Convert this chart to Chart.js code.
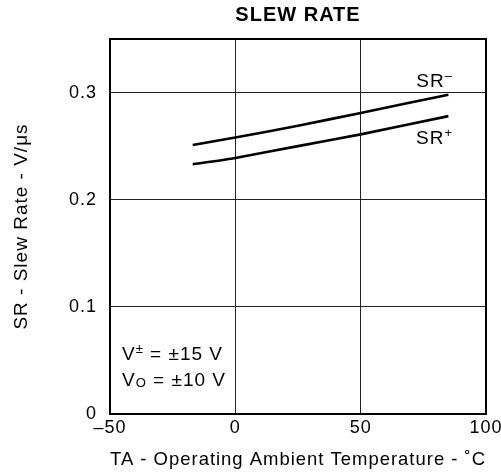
<!DOCTYPE html>
<html><head><meta charset="utf-8">
<script src="https://cdn.jsdelivr.net/npm/chart.js@4/dist/chart.umd.min.js"></script>
<style>html,body{margin:0;padding:0;background:#fff;}#wrap{width:501px;height:476px;}</style>
</head><body><div id="wrap"><canvas id="c" width="501" height="476"></canvas></div>
<script>
// ---- data ----
const temps = [-17, 0, 25, 50, 85];
const srMinus = [0.251, 0.258, 0.269, 0.281, 0.298];
const srPlus = [0.233, 0.239, 0.250, 0.261, 0.278];
const xTicks = [-50, 0, 50, 100];
const xTickLabels = ['–50', '0', '50', '100'];
const yTicks = [0, 0.1, 0.2, 0.3];
const yTickLabels = ['0', '0.1', '0.2', '0.3'];
const chartTitle = 'SLEW RATE';
const xTitle = 'TA - Operating Ambient Temperature - ˚C';
const yTitle = 'SR - Slew Rate - V/μs';
// annotation texts (segments: normal / sup / sub), anchored in data coordinates
const notes = [
  {x: 79.5, y: 0.305, align: 'center', parts: [['SR', ''], ['–', 'sup']]},
  {x: 79.5, y: 0.252, align: 'center', parts: [['SR', ''], ['+', 'sup']]},
  {x: -45.2, y: 0.0502, align: 'left', parts: [['V', ''], ['±', 'sup'], [' = ±15 V', '']]},
  {x: -45.2, y: 0.0263, align: 'left', parts: [['V', ''], ['O', 'sub'], [' = ±10 V', '']]}
];

const FONT = '"Liberation Sans", Arial, Helvetica, sans-serif';
Chart.defaults.font.family = FONT;
Chart.defaults.color = '#000';

// slightly wider text tracking, like the reference typesetting
const spacingPlugin = {
  id: 'spacing',
  beforeDraw(chart) { if ('letterSpacing' in chart.ctx) chart.ctx.letterSpacing = '1px'; }
};

const notePlugin = {
  id: 'notes',
  afterDatasetsDraw(chart) {
    const {ctx, scales: {x, y}} = chart;
    ctx.save();
    ctx.fillStyle = '#000';
    ctx.textBaseline = 'alphabetic';
    ctx.textAlign = 'left';
    const big = '19px ' + FONT, small = '13px ' + FONT;
    notes.forEach(n => {
      let total = 0;
      n.parts.forEach(([t, k]) => { ctx.font = k ? small : big; total += ctx.measureText(t).width; });
      let px = x.getPixelForValue(n.x);
      const py = y.getPixelForValue(n.y);
      if (n.align === 'center') px -= total / 2;
      n.parts.forEach(([t, k]) => {
        ctx.font = k ? small : big;
        const dy = k === 'sup' ? -7 : (k === 'sub' ? 1 : 0);
        ctx.fillText(t, px, py + dy);
        px += ctx.measureText(t).width;
      });
    });
    ctx.restore();
  }
};

const pts = arr => temps.map((t, i) => ({x: t, y: arr[i]}));

new Chart(document.getElementById('c'), {
  type: 'line',
  data: {
    datasets: [
      {label: 'SR-', data: pts(srMinus), borderColor: '#000', borderWidth: 2.6, pointRadius: 0, tension: 0.15, fill: false, xAxisID: 'x', yAxisID: 'y'},
      {label: 'SR+', data: pts(srPlus), borderColor: '#000', borderWidth: 2.6, pointRadius: 0, tension: 0.15, fill: false, xAxisID: 'x', yAxisID: 'y'}
    ]
  },
  options: {
    responsive: false, animation: false, devicePixelRatio: 1,
    layout: {padding: 0},
    plugins: {legend: {display: false}, tooltip: {enabled: false}, title: {display: false}},
    scales: {
      x: {
        type: 'linear', position: 'bottom', min: -50, max: 100,
        afterBuildTicks: s => { s.ticks = xTicks.map(v => ({value: v})); },
        ticks: {callback: v => xTickLabels[xTicks.indexOf(v)], padding: 3, font: {size: 18}, color: '#000', maxRotation: 0, autoSkip: false},
        grid: {color: '#222', lineWidth: 1, drawTicks: false},
        border: {display: true, color: '#000', width: 2},
        title: {display: true, text: xTitle, font: {size: 19}, color: '#000', padding: {top: 0, bottom: 5}},
        afterFit: s => { s.height = 62; s.paddingRight = 14; s.paddingLeft = 14; }
      },
      x2: {
        type: 'linear', position: 'top', min: -50, max: 100,
        ticks: {display: false}, grid: {display: false},
        border: {display: true, color: '#000', width: 2},
        title: {display: true, text: chartTitle, font: {size: 20, weight: 'bold'}, color: '#000', padding: {top: 3, bottom: 0}},
        afterFit: s => { s.height = 39; s.paddingRight = 0; s.paddingLeft = 0; }
      },
      y: {
        type: 'linear', position: 'left', min: 0, max: 0.35,
        afterBuildTicks: s => { s.ticks = yTicks.map(v => ({value: v})); },
        ticks: {callback: v => yTickLabels[yTicks.indexOf(v)], padding: 13, font: {size: 18}, color: '#000', autoSkip: false},
        grid: {color: '#222', lineWidth: 1, drawTicks: false},
        border: {display: true, color: '#000', width: 2},
        title: {display: true, text: yTitle, font: {size: 19}, color: '#000', padding: {top: 10, bottom: 0}},
        afterFit: s => { s.width = 110; }
      },
      y2: {
        type: 'linear', position: 'right', min: 0, max: 0.35,
        ticks: {display: false}, grid: {display: false},
        border: {display: true, color: '#000', width: 2},
        afterFit: s => { s.width = 15; }
      }
    }
  },
  plugins: [spacingPlugin, notePlugin]
});
</script>
</body></html>
